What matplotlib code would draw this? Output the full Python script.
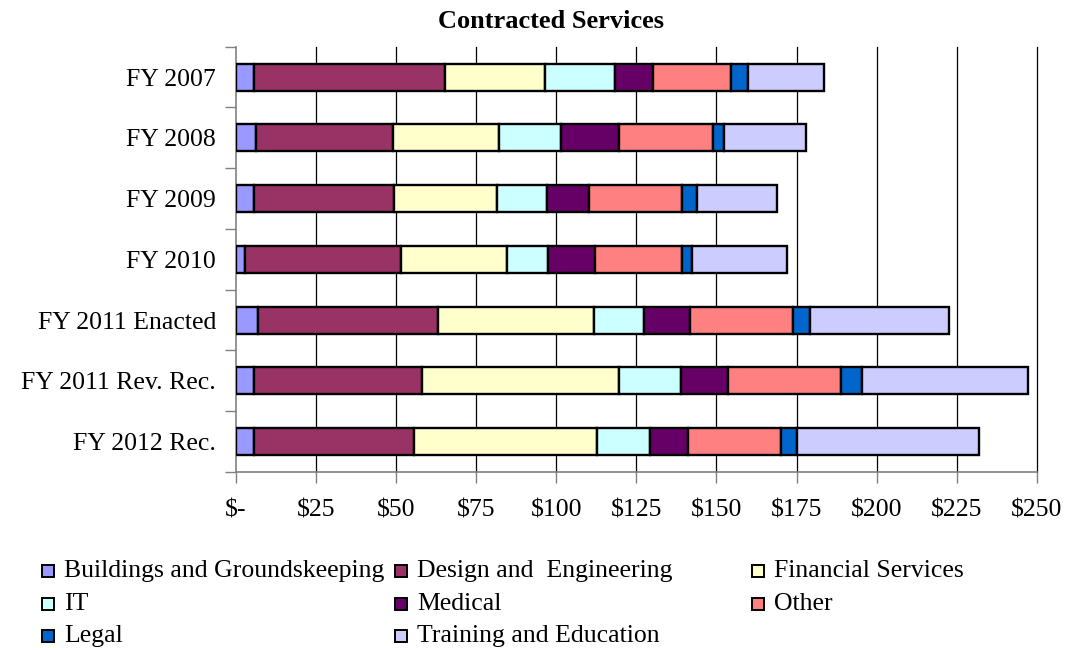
import matplotlib
matplotlib.use("Agg")
import matplotlib.pyplot as plt
from matplotlib.patches import Rectangle
import numpy as np

plt.rcParams['font.family'] = ['Liberation Serif', 'DejaVu Serif']

categories = ["FY 2007", "FY 2008", "FY 2009", "FY 2010",
              "FY 2011 Enacted", "FY 2011 Rev. Rec.", "FY 2012 Rec."]
series_names = ["Buildings and Groundskeeping", "Design and  Engineering",
                "Financial Services", "IT", "Medical", "Other", "Legal",
                "Training and Education"]
buildings = [5.7, 6.3, 5.7, 3.0, 7.0, 5.8, 5.8]
design = [59.7, 42.8, 43.7, 48.6, 56.0, 52.3, 49.7]
financial = [31.2, 33.0, 32.2, 33.0, 48.9, 61.4, 57.2]
it = [21.7, 19.4, 15.6, 12.9, 15.5, 19.6, 16.7]
medical = [11.9, 18.1, 13.1, 14.6, 14.3, 14.5, 11.7]
other = [24.2, 29.2, 29.1, 27.3, 32.2, 35.2, 29.2]
legal = [5.6, 3.7, 4.4, 3.0, 5.2, 6.5, 4.9]
training = [23.6, 25.6, 25.0, 29.5, 43.5, 51.9, 56.6]
x_ticks = [0, 25, 50, 75, 100, 125, 150, 175, 200, 225, 250]
x_tick_labels = ["$-", "$25", "$50", "$75", "$100", "$125", "$150",
                 "$175", "$200", "$225", "$250"]
colors = ["#9999FF", "#993366", "#FFFFCC", "#CCFFFF", "#660066",
          "#FF8080", "#0066CC", "#CCCCFF"]

series = [buildings, design, financial, it, medical, other, legal, training]

fig = plt.figure(figsize=(10.66, 6.5), dpi=100)
ax = fig.add_axes([0.2211, 0.2738, 0.7516, 0.6544])

y = np.arange(len(categories))
left = np.zeros(len(categories))
for vals, col, name in zip(series, colors, series_names):
    ax.barh(y, vals, left=left, height=0.445, color=col, edgecolor='black',
            linewidth=1.7, label=name, zorder=3)
    left += np.array(vals)

ax.set_xlim(0, 250)
ax.set_ylim(len(categories) - 0.5, -0.5)
ax.set_xticks(x_ticks)
ax.set_xticklabels(x_tick_labels)
ax.set_yticks(y)
ax.set_yticklabels(categories)
ax.set_yticks(np.arange(-0.5, len(categories), 1.0), minor=True)

ax.tick_params(axis='y', which='major', length=0, pad=14, labelsize=18.5)
ax.tick_params(axis='y', which='minor', length=8, width=1, color='#808080', direction='out')
ax.tick_params(axis='x', which='major', length=8, width=1, color='#808080', direction='out',
               pad=12, labelsize=18.5)

for xv in x_ticks[1:]:
    ax.axvline(xv, color='black', linewidth=0.9, zorder=1, clip_on=False)

for s in ['top', 'right']:
    ax.spines[s].set_visible(False)
for s in ['left', 'bottom']:
    ax.spines[s].set_color('#808080')
    ax.spines[s].set_linewidth(1.2)

fig.text(0.517, 1 - 22 / 650, "Contracted Services", ha='center', va='center',
         fontsize=19, fontweight='bold')

# Legend (Excel style, equal-width columns)
col_x = [42, 395, 752]
row_y = [571, 604, 636]
W, H = 1066, 650
for i, (name, col) in enumerate(zip(series_names, colors)):
    r, c = divmod(i, 3)
    mx, my = col_x[c], row_y[r]
    fig.patches.append(Rectangle((mx / W, 1 - (my + 6) / H), 12 / W, 12 / H,
                                 transform=fig.transFigure, facecolor=col,
                                 edgecolor='black', linewidth=1.4))
    fig.text((mx + 22) / W, 1 - my / H, name, ha='left', va='center', fontsize=18.5)

fig.savefig("out.png", dpi=100)
